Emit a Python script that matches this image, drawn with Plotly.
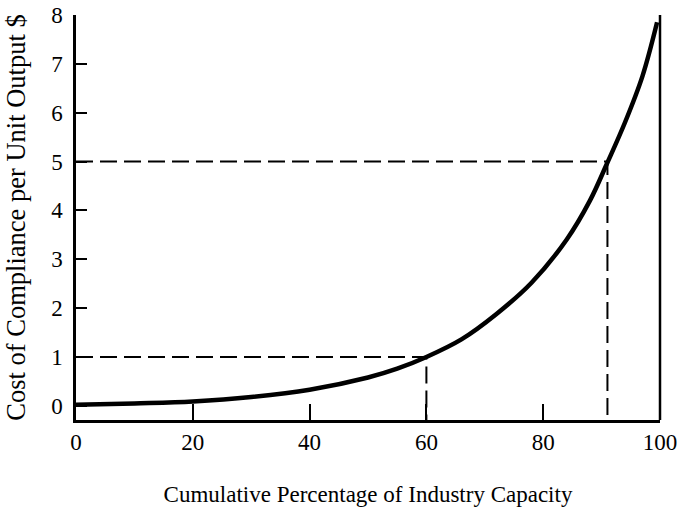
import plotly.graph_objects as go

# Curve: cost of compliance vs cumulative percentage of industry capacity
capacity = [0, 10, 20, 30, 40, 50, 55, 60, 66, 72, 78, 84, 88, 91, 94, 97, 99.5]
cost = [0.02, 0.05, 0.09, 0.18, 0.33, 0.58, 0.76, 1.0, 1.36, 1.88, 2.52, 3.4,
        4.2, 4.98, 5.8, 6.75, 7.85]

# Reference dashed guides (cost level, capacity where reached)
guide_cost = [1, 5]
guide_capacity = [60, 91]

x_ticks = [0, 20, 40, 60, 80, 100]
y_ticks = [0, 1, 2, 3, 4, 5, 6, 7, 8]
y_floor = -0.29

FONT = "Liberation Serif, Times New Roman, serif"

fig = go.Figure()

for c, cap in zip(guide_cost, guide_capacity):
    fig.add_trace(go.Scatter(
        x=[0, cap, cap], y=[c, c, y_floor], mode="lines",
        line=dict(color="black", width=2, dash="17px,7px"),
        hoverinfo="skip", showlegend=False))

fig.add_trace(go.Scatter(
    x=capacity, y=cost, mode="lines",
    line=dict(color="black", width=4.5, shape="spline", smoothing=1.0),
    showlegend=False))

# right-hand frame line of the plot area
fig.add_shape(type="line", xref="x domain", yref="y domain",
              x0=1, x1=1, y0=0, y1=1,
              line=dict(color="black", width=2.5), layer="above")

fig.update_layout(
    width=679, height=508,
    margin=dict(l=76, r=19, t=15, b=88),
    paper_bgcolor="white", plot_bgcolor="white",
    showlegend=False,
    font=dict(family=FONT, size=22, color="black"),
    xaxis=dict(
        range=[0, 100], tickvals=x_ticks, ticktext=[str(v) for v in x_ticks],
        ticks="inside", ticklen=16, tickwidth=2, tickcolor="black",
        showline=True, linecolor="black", linewidth=2.5, mirror=False,
        showgrid=False, zeroline=False, automargin=False,
        tickfont=dict(family=FONT, size=23),
        title=dict(text="Cumulative Percentage of Industry Capacity",
                   font=dict(family=FONT, size=23), standoff=32),
    ),
    yaxis=dict(
        range=[y_floor, 8], tickvals=y_ticks, ticktext=[str(v) + " " for v in y_ticks],
        ticks="inside", ticklen=11, tickwidth=2, tickcolor="black",
        showline=True, linecolor="black", linewidth=3, mirror=False,
        showgrid=False, zeroline=False, automargin=False,
        tickfont=dict(family=FONT, size=23),
        title=dict(text="Cost of Compliance per Unit Output $",
                   font=dict(family=FONT, size=26.5), standoff=18),
    ),
)

fig.write_html("out.html",
               config={"displayModeBar": False},
               post_script="document.body.style.margin='0';document.body.style.overflow='hidden';")
